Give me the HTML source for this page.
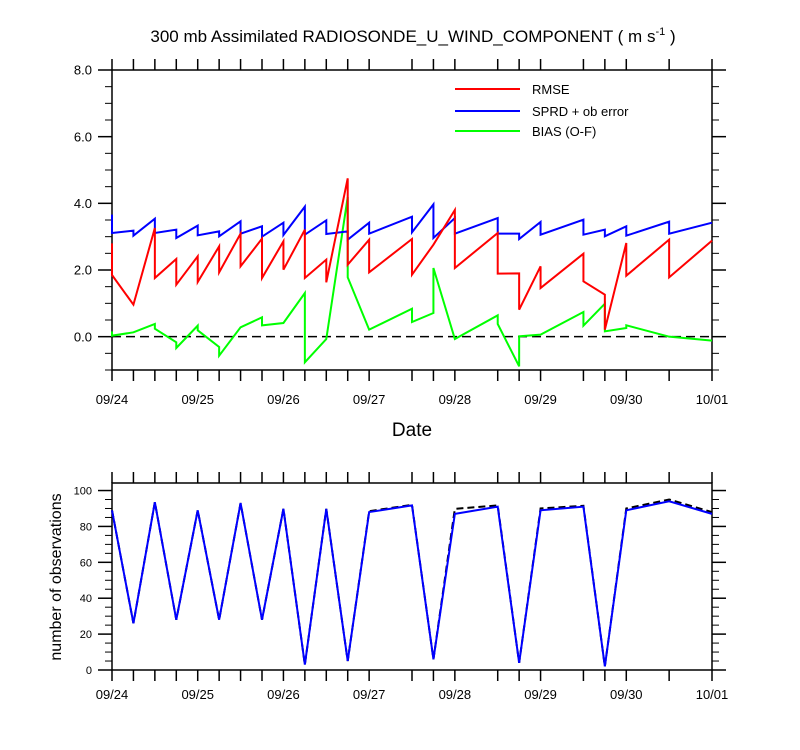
<!DOCTYPE html>
<html><head><meta charset="utf-8"><style>
body{margin:0;background:#fff;}
svg{display:block;font-family:"Liberation Sans",sans-serif;}
</style></head><body>
<svg id="chart" width="800" height="750">
<text x="413" y="42" font-size="17" text-anchor="middle">300 mb Assimilated RADIOSONDE_U_WIND_COMPONENT ( m s<tspan dy="-7" font-size="11">-1</tspan><tspan dy="7"> )</tspan></text>
<g id="top"></g>
<g id="bot"></g>
<text x="412" y="436" font-size="19" text-anchor="middle">Date</text>
<text transform="translate(61,577) rotate(-90)" font-size="16" text-anchor="middle">number of observations</text>
<g>
<line x1="455" y1="89" x2="520" y2="89" stroke="#f00" stroke-width="2"/>
<text x="532" y="94" font-size="13">RMSE</text>
<line x1="455" y1="111" x2="520" y2="111" stroke="#00f" stroke-width="2"/>
<text x="532" y="116" font-size="13">SPRD + ob error</text>
<line x1="455" y1="131" x2="520" y2="131" stroke="#0f0" stroke-width="2"/>
<text x="532" y="136" font-size="13">BIAS (O-F)</text>
</g>
</svg>
<script>
// time indices in 6-hour steps from 09/24 00Z
const times = [0,1,2,3,4,5,6,7,8,9,10,11,12,14,15,16,18,19,20,22,23,24,26,28];
const dateLabels = ["09/24","09/25","09/26","09/27","09/28","09/29","09/30","10/01"];
const rmseIn  = [2.80,0.96,3.26,2.33,2.41,2.71,3.09,2.94,2.86,3.21,2.31,4.75,2.91,2.93,2.76,3.80,3.11,1.90,2.11,2.49,1.26,2.81,2.91,2.88];
const rmseOut = [1.85,0.96,1.76,1.56,1.64,1.93,2.11,1.76,2.01,1.76,1.63,2.16,1.93,1.86,2.76,2.06,1.89,0.81,1.46,1.66,0.21,1.83,1.78,2.88];
const sprdIn  = [3.66,3.18,3.54,3.21,3.33,3.16,3.46,3.31,3.42,3.90,3.49,3.16,3.42,3.60,3.97,3.56,3.56,3.09,3.44,3.51,3.21,3.31,3.45,3.42];
const sprdOut = [3.11,3.03,3.11,2.96,3.04,3.01,3.09,3.00,3.05,3.06,3.08,2.91,3.09,3.13,2.96,3.09,3.09,2.93,3.06,3.06,3.01,3.03,3.09,3.42];
const biasIn  = [0.16,0.13,0.38,-0.17,0.33,-0.31,0.28,0.58,0.41,1.31,-0.07,4.19,0.21,0.84,0.71,-0.07,0.64,-0.89,0.06,0.74,0.99,0.26,0.00,-0.12];
const biasOut = [0.03,0.13,0.24,-0.34,0.19,-0.57,0.28,0.34,0.41,-0.77,-0.07,1.78,0.21,0.44,2.06,-0.07,0.38,0.01,0.06,0.33,0.16,0.34,0.00,-0.12];
const obsUsed = [89,26,93.5,28,89,28,93,28,89.8,3,89.8,5,88,91.7,6,87,91,4,89,91,2,89,94,87];
const obsTotal= [89,26,93.5,28,89,28,93,28,89.8,3,89.8,5,88.5,92,6,89.8,91.7,4,90,91.5,2,90,95,88];

const NS="http://www.w3.org/2000/svg";
const X0=112,X1=712,TMAX=28;
const xs=t=>X0+(X1-X0)*t/TMAX;
const T={top:70,bot:370,min:-1,max:8}, B={top:483,bot:670,min:0,max:104.2};
const yT=v=>T.bot-(v-T.min)*(T.bot-T.top)/(T.max-T.min);
const yB=v=>B.bot-(v-B.min)*(B.bot-B.top)/(B.max-B.min);
function mk(p,tag,at){const e=document.createElementNS(NS,tag);for(const k in at)e.setAttribute(k,at[k]);p.appendChild(e);return e;}

function axes(g,top,bot,ys,majors,minors,fmt,fs,lblDy){
  const r=mk(g,'rect',{x:X0,y:top,width:X1-X0,height:bot-top,fill:'none',stroke:'#000','stroke-width':1.5});
  
  
  times.forEach(t=>{const x=xs(t);
    const a=mk(g,'line',{x1:x,x2:x,y1:bot,y2:bot+11,stroke:'#000','stroke-width':1.5});
    
    
    const b=mk(g,'line',{x1:x,x2:x,y1:top,y2:top-11,stroke:'#000','stroke-width':1.5});
    
    });
  dateLabels.forEach((d,i)=>{const tx=mk(g,'text',{x:xs(i*4),y:bot+lblDy,'font-size':13,'text-anchor':'middle'});tx.textContent=d;
    
    });
  minors.forEach(v=>{const y=ys(v);[[X0,X0-7],[X1,X1+7]].forEach(([a,b])=>{const l=mk(g,'line',{x1:a,x2:b,y1:y,y2:y,stroke:'#000','stroke-width':1});
    
    });});
  majors.forEach(v=>{const y=ys(v);[[X0,X0-14],[X1,X1+14]].forEach(([a,b])=>{const l=mk(g,'line',{x1:a,x2:b,y1:y,y2:y,stroke:'#000','stroke-width':1.5});
    
    });
    const tx=mk(g,'text',{x:X0-20,y:y+fs*0.36,'font-size':fs,'text-anchor':'end'});tx.textContent=fmt(v);
    
    });
}
function pairPath(inA,outA,ys){let d='';times.forEach((t,i)=>{const x=xs(t);d+=(i?'L':'M')+x+','+ys(inA[i])+'L'+x+','+ys(outA[i]);});return d;}
function simplePath(a,ys){return times.map((t,i)=>(i?'L':'M')+xs(t)+','+ys(a[i])).join('');}

const gt=document.getElementById('top'), gb=document.getElementById('bot');
const tMin=[],tMaj=[0,2,4,6,8];for(let v=-1;v<=8;v+=0.5)if(v%2!==0)tMin.push(v);
axes(gt,T.top,T.bot,yT,tMaj,tMin,v=>v.toFixed(1),13,34);
const zl=mk(gt,'line',{x1:X0,x2:X1,y1:yT(0),y2:yT(0),stroke:'#000','stroke-width':1.5,'stroke-dasharray':'9,5'});


[['bias',biasIn,biasOut,'#0f0'],['sprd',sprdIn,sprdOut,'#00f'],['rmse',rmseIn,rmseOut,'#f00']].forEach(([n,a,b,c])=>{
  const p=mk(gt,'path',{d:pairPath(a,b,yT),fill:'none',stroke:c,'stroke-width':2,'stroke-linejoin':'miter'});
  
  });

const bMin=[],bMaj=[0,20,40,60,80,100];for(let v=5;v<=100;v+=5)if(v%20!==0)bMin.push(v);
axes(gb,B.top,B.bot,yB,bMaj,bMin,v=>String(v),11,29);
const p1=mk(gb,'path',{d:simplePath(obsTotal,yB),fill:'none',stroke:'#000','stroke-width':2,'stroke-dasharray':'7,4'});


const p2=mk(gb,'path',{d:simplePath(obsUsed,yB),fill:'none',stroke:'#00f','stroke-width':2});


</script>
</body></html>
